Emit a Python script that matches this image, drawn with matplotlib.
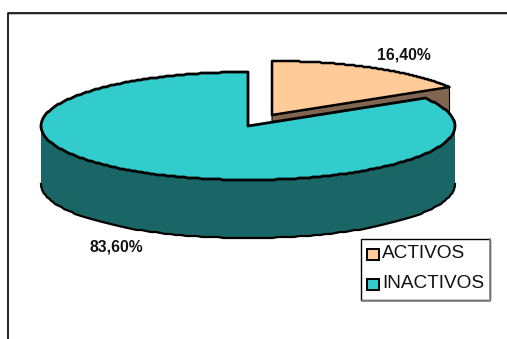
import numpy as np
import matplotlib
matplotlib.use('Agg')
import matplotlib.pyplot as plt
from matplotlib.patches import Polygon, Rectangle

labels = ['ACTIVOS', 'INACTIVOS']
values = [16.40, 83.60]
value_labels = ['16,40%', '83,60%']

top_colors = ['#FFCC99', '#33CCCC']
side_colors = ['#806650', '#1A6666']

W, H = 507, 339
RX, RY = 207, 54
DEPTH = 58
CENTER = (248, 126)
OFFSET_CENTER = (272, 115)


def arc(center, start, end, n=120):
    # angle measured clockwise from 12 o'clock, y axis points down
    t = np.radians(np.linspace(start, end, n))
    x = center[0] + RX * np.sin(t)
    y = center[1] - RY * np.cos(t)
    # whole pixel rows give the stepped outline of the rim
    return np.column_stack([x, np.round(y)])


fig = plt.figure(figsize=(W / 100, H / 100), dpi=100)
ax = fig.add_axes([0, 0, 1, 1])
ax.set_xlim(0, W)
ax.set_ylim(H, 0)
ax.axis('off')

# chart area border, only top and left reach inside the figure
ax.plot([W + 2, 8, 8], [12.5, 12.5, H + 2], color='black', lw=1.2)
ax.plot([9, W + 2], [13.7, 13.7], color='#bbbbbb', lw=0.7)

split = 360 * values[0] / sum(values)

# detached slice: side first, then top
a_rim = arc(OFFSET_CENTER, 0, split)
rx, ry = a_rim[-1]
ax.add_patch(Polygon([OFFSET_CENTER, (rx, ry), (rx, ry + DEPTH), (OFFSET_CENTER[0], OFFSET_CENTER[1] + DEPTH)],
                     closed=True, fc=side_colors[0], ec='black', lw=0.8))
ax.add_patch(Polygon(np.vstack([[OFFSET_CENTER], a_rim]), closed=True, fc=top_colors[0],
                     ec='black', lw=1.8, joinstyle='round'))

# large slice: outer wall for the front half, then its lower rim and the top
front = arc(CENTER, max(split, 90), 270)
lower = front + [0, DEPTH]
ax.add_patch(Polygon(np.vstack([front, lower[::-1]]), closed=True, fc=side_colors[1], ec='none'))
ax.plot(lower[:, 0], lower[:, 1], color='black', lw=1.6)
b_rim = arc(CENTER, split, 360, 300)
ax.add_patch(Polygon(np.vstack([[CENTER], b_rim]), closed=True, fc=top_colors[1],
                     ec='black', lw=2.0, joinstyle='round'))

# value labels
ax.text(404, 55, value_labels[0], fontsize=11.3, fontweight='bold', family='Liberation Sans',
        ha='center', va='center', color='#111111')
ax.text(116.5, 247, value_labels[1], fontsize=11.3, fontweight='bold', family='Liberation Sans',
        ha='center', va='center', color='#111111')

# legend box with a grey edge on the bottom and right
ax.plot([362, 490, 490], [300.5, 300.5, 239], color='#888888', lw=1.2)
ax.add_patch(Rectangle((361, 238.5), 128.5, 61, fc='white', ec='black', lw=1.0))
for i, name in enumerate(labels):
    y = 252 + i * 30
    ax.add_patch(Rectangle((367, y - 3.5), 11.5, 11.5, fc=top_colors[i], ec='black', lw=1.4))
    ax.text(382, y + 1.2, name, fontsize=13.7, family='Liberation Sans', ha='left', va='center', color='#111111')

fig.savefig('out.png', dpi=100)
